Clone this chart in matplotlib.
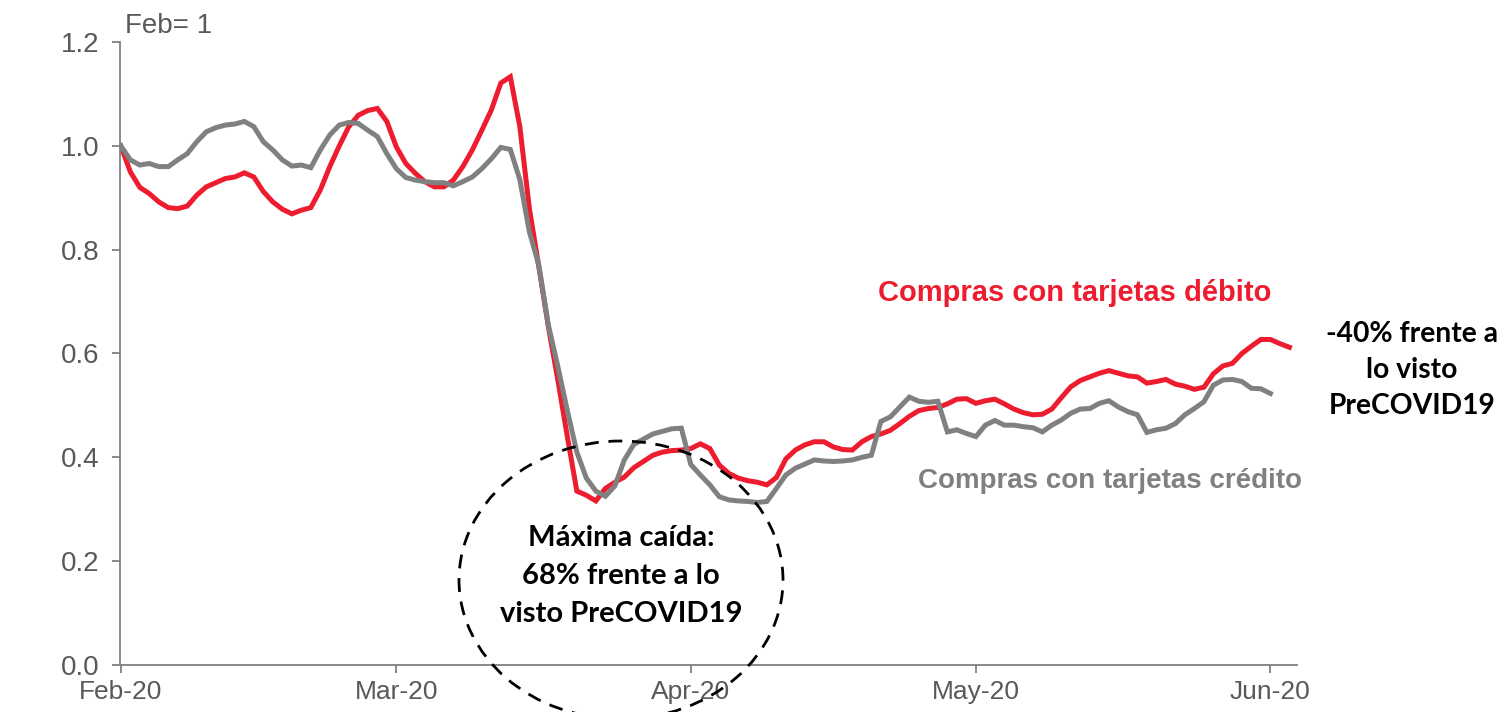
import matplotlib
matplotlib.use("Agg")
import matplotlib.pyplot as plt
import matplotlib.dates as mdates
from matplotlib.patches import Ellipse
import pandas as pd

# ---- data (index = days since 2020-02-01, Feb = 1) ----
start_date = "2020-02-01"
debito = [1.000, 0.950, 0.920, 0.908, 0.892, 0.881, 0.879, 0.884, 0.905, 0.921,
          0.929, 0.937, 0.940, 0.948, 0.940, 0.912, 0.892, 0.878, 0.869, 0.876,
          0.881, 0.915, 0.960, 1.000, 1.037, 1.059, 1.068, 1.072, 1.047, 0.998,
          0.966, 0.947, 0.931, 0.921, 0.921, 0.934, 0.960, 0.992, 1.030, 1.069,
          1.121, 1.133, 1.037, 0.880, 0.767, 0.652, 0.549, 0.440, 0.335, 0.327,
          0.316, 0.340, 0.352, 0.362, 0.380, 0.392, 0.404, 0.410, 0.413, 0.414,
          0.417, 0.426, 0.417, 0.385, 0.369, 0.360, 0.355, 0.352, 0.347, 0.361,
          0.397, 0.414, 0.424, 0.430, 0.430, 0.420, 0.415, 0.414, 0.430, 0.440,
          0.445, 0.452, 0.465, 0.479, 0.490, 0.494, 0.496, 0.503, 0.512, 0.513,
          0.504, 0.509, 0.512, 0.503, 0.493, 0.486, 0.482, 0.483, 0.493, 0.515,
          0.536, 0.548, 0.555, 0.562, 0.567, 0.562, 0.557, 0.555, 0.543, 0.546,
          0.550, 0.541, 0.537, 0.531, 0.535, 0.561, 0.576, 0.581, 0.600, 0.614,
          0.627, 0.627, 0.619, 0.612]
credito = [1.000, 0.973, 0.963, 0.966, 0.960, 0.960, 0.973, 0.985, 1.008, 1.027,
           1.035, 1.040, 1.042, 1.047, 1.037, 1.008, 0.992, 0.973, 0.961, 0.963,
           0.958, 0.992, 1.021, 1.040, 1.045, 1.043, 1.030, 1.018, 0.985, 0.956,
           0.939, 0.934, 0.931, 0.929, 0.929, 0.923, 0.931, 0.940, 0.956, 0.975,
           0.997, 0.993, 0.935, 0.835, 0.770, 0.655, 0.575, 0.490, 0.410, 0.360,
           0.335, 0.325, 0.345, 0.395, 0.425, 0.435, 0.445, 0.450, 0.455, 0.456,
           0.386, 0.366, 0.347, 0.324, 0.318, 0.316, 0.315, 0.313, 0.315, 0.340,
           0.366, 0.379, 0.387, 0.395, 0.393, 0.392, 0.393, 0.395, 0.400, 0.404,
           0.469, 0.478, 0.497, 0.516, 0.508, 0.506, 0.508, 0.449, 0.453, 0.446,
           0.440, 0.462, 0.471, 0.462, 0.462, 0.459, 0.457, 0.449, 0.462, 0.472,
           0.485, 0.493, 0.494, 0.504, 0.509, 0.497, 0.488, 0.482, 0.448, 0.453,
           0.456, 0.465, 0.482, 0.494, 0.507, 0.539, 0.549, 0.550, 0.546, 0.533,
           0.532, 0.523]
month_ticks = ["2020-02-01", "2020-03-01", "2020-04-01", "2020-05-01", "2020-06-01"]
y_ticks = [0.0, 0.2, 0.4, 0.6, 0.8, 1.0, 1.2]

RED = "#ED1C2E"
GRAY = "#808080"
TXT = "#595959"

W, H = 1501, 712
fig = plt.figure(figsize=(W / 100, H / 100), dpi=100)
ax = fig.add_axes([120 / W, 1 - 665 / H, (1297 - 120) / W, (665 - 42) / H])

d_deb = pd.date_range(start_date, periods=len(debito), freq="D")
d_cre = pd.date_range(start_date, periods=len(credito), freq="D")
ax.plot(d_cre, credito, color=GRAY, lw=3.6, solid_joinstyle="miter", zorder=3)
ax.plot(d_deb, debito, color=RED, lw=3.6, solid_joinstyle="miter", zorder=2)

t0 = pd.Timestamp(start_date)
ax.set_xlim(t0 - pd.Timedelta(hours=2), t0 + pd.Timedelta(days=123.8))
ax.set_ylim(0, 1.2)
ax.set_xticks(pd.to_datetime(month_ticks))
ax.xaxis.set_major_formatter(mdates.DateFormatter("%b-%y"))
ax.set_yticks(y_ticks)
ax.set_yticklabels([f"{v:.1f}" for v in y_ticks])

for s in ["top", "right"]:
    ax.spines[s].set_visible(False)
for s in ["left", "bottom"]:
    ax.spines[s].set_color(GRAY)
    ax.spines[s].set_linewidth(1.3)
ax.tick_params(axis="both", colors=GRAY, labelcolor=TXT, direction="out",
               length=6, width=1.3, labelsize=20)
ax.tick_params(axis="y", pad=9)
ax.tick_params(axis="x", pad=5, labelsize=19)
for lab in ax.get_xticklabels() + ax.get_yticklabels():
    lab.set_fontfamily("Liberation Sans")

def px(x, y):
    return x / W, 1 - y / H

fig.text(*px(125, 26), "Feb= 1", color=TXT, fontsize=20, family="Liberation Sans",
         ha="left", va="center")

fig.text(*px(1075, 293), "Compras con tarjetas débito", color=RED, fontsize=21,
         family="Liberation Sans", weight="bold", ha="center", va="center")
fig.text(*px(1110, 481), "Compras con tarjetas crédito", color=GRAY, fontsize=20,
         family="Liberation Sans", weight="bold", ha="center", va="center")
fig.text(*px(1412, 370), "-40% frente a\nlo visto\nPreCOVID19", color="black",
         fontsize=20.3, family="Lato", weight="bold", ha="center", va="center",
         linespacing=1.5)
fig.text(*px(621, 576), "Máxima caída:\n68% frente a lo\nvisto PreCOVID19", color="black",
         fontsize=21, family="Lato", weight="bold", ha="center", va="center",
         linespacing=1.57)

ell = Ellipse(px(621, 580), 324 / W, 278 / H, transform=fig.transFigure,
              fill=False, edgecolor="black", lw=2, linestyle=(0, (5, 3.5)), zorder=5)
fig.patches.append(ell)

fig.savefig("out.png", dpi=100)
